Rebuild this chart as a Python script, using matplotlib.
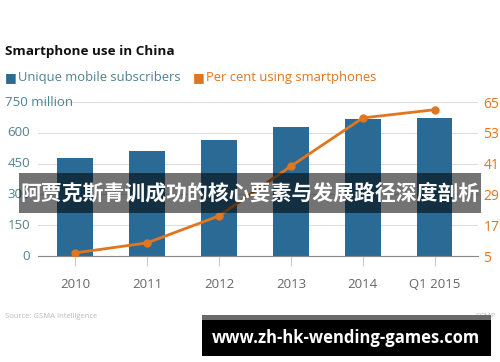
import numpy as np
import matplotlib.pyplot as plt
from matplotlib.patches import Rectangle

# data
years = ["2010", "2011", "2012", "2013", "2014", "Q1 2015"]
subscribers = [477, 511, 565, 628, 667, 672]      # million
smartphone_pct = [6.2, 10.1, 20.6, 40.0, 58.8, 62.0]
left_ticks = [0, 150, 300, 450, 600, 750]
left_labels = ["0", "150", "300", "450", "600", "750 million"]
right_ticks = [5, 17, 29, 41, 53, 65]

blue = "#2b6a94"
orange = "#e0761f"
teal = "#4f8292"
grey = "#666666"

plt.rcParams['font.family'] = ['Open Sans', 'DejaVu Sans']

fig = plt.figure(figsize=(5, 3.62), dpi=100)
fig.patch.set_facecolor("white")

ax = fig.add_axes([38/500, 1-256/362, 440/500, 154/362])
x = np.arange(len(years))
ax.bar(x, subscribers, width=0.49, color=blue, zorder=3)
ax.set_ylim(0, 750)
ax.set_xlim(-0.515, 5.6)
ax.set_yticks(left_ticks)
ax.set_yticklabels([])
ax.grid(axis="y", color="#dddddd", linewidth=0.8, zorder=0)
ax.tick_params(axis="y", length=0)
ax.set_xticks(x)
ax.set_xticklabels(years, fontsize=9.5, color=grey)
ax.tick_params(axis="x", length=7, pad=9, color="#cccccc", direction="out")
for s in ["top", "right", "left"]:
    ax.spines[s].set_visible(False)
ax.spines["bottom"].set_color("#888888")
ax.spines["bottom"].set_zorder(4)

# left tick labels, in figure coords so the top one can be left aligned
for t, lab in zip(left_ticks, left_labels):
    yf = (1-256/362) + t/750*154/362
    fig.text(5/500 if t == 750 else 30/500, yf, lab, fontsize=9.5, color=teal,
             ha="left" if t == 750 else "right", va="center")

ax2 = ax.twinx()
ax2.plot(x, smartphone_pct, color=orange, linewidth=2, marker="o",
         markersize=5, zorder=5)
ax2.set_ylim(5, 65)
ax2.set_yticks(right_ticks)
ax2.set_yticklabels([str(v) for v in right_ticks], fontsize=10, color=orange)
ax2.tick_params(axis="y", length=0, pad=4)
for s in ["top", "right", "left", "bottom"]:
    ax2.spines[s].set_visible(False)

# title and legend
fig.text(5/500, 1-52/362, "Smartphone use in China", fontsize=9.7,
         fontweight="bold", color="#111111", va="center")
fig.text(5/500, 1-78/362, "\u25a0", fontsize=9, color=blue, va="center",
         family="DejaVu Sans")
fig.text(18/500, 1-78/362, "Unique mobile subscribers", fontsize=9.4,
         color=teal, va="center")
fig.text(193/500, 1-78/362, "\u25a0", fontsize=9, color=orange, va="center",
         family="DejaVu Sans")
fig.text(206/500, 1-78/362, "Per cent using smartphones", fontsize=9.4,
         color=orange, va="center")

# source line
fig.text(5/500, 1-316/362, "Source: GSMA Intelligence", fontsize=5.5,
         color="#bbbbbb", va="center")
fig.text(496/500, 1-316/362, "SCMP", fontsize=5.5, color="#bbbbbb",
         va="center", ha="right")

# overlay banner
fig.patches.append(Rectangle((19/500, 1-213/362), 462/500, 40/362,
                             transform=fig.transFigure, facecolor="black",
                             alpha=0.55, zorder=10))
fig.text(250/500, 1-193/362, "阿贾克斯青训成功的核心要素与发展路径深度剖析",
         fontsize=15, fontweight="bold", color="white", ha="center",
         va="center", family=["Noto Sans CJK SC", "DejaVu Sans"], zorder=11)

# url box
fig.patches.append(Rectangle((202/500, 1-320/362), 289/500, 5/362,
                             transform=fig.transFigure, facecolor="#6b6b6b",
                             zorder=10))
fig.patches.append(Rectangle((202/500, 1-356/362), 289/500, 36/362,
                             transform=fig.transFigure, facecolor="black",
                             zorder=10))
fig.text(346/500, 1-338/362, "www.zh-hk-wending-games.com", fontsize=12,
         fontweight="bold", color="white", ha="center", va="center",
         family=["Open Sans", "DejaVu Sans"], zorder=11)

fig.savefig("out.png", dpi=100)
